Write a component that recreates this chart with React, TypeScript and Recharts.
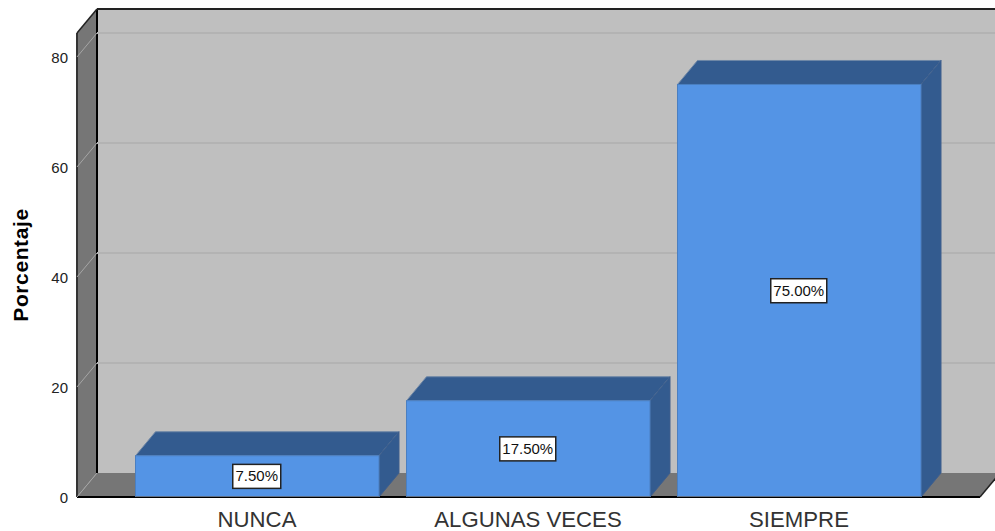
import { Bar, BarChart, CartesianGrid, LabelList, XAxis, YAxis } from 'recharts'

const categories = ['NUNCA', 'ALGUNAS VECES', 'SIEMPRE']
const percentages = [7.5, 17.5, 75]
const yTicks = [0, 20, 40, 60, 80]

const chartData = categories.map((name, i) => ({ name, value: percentages[i] }))

// depth of the fake 3D box
const DX = 20
const DY = 24

function poly(points: number[][]) {
  return points.map((p) => p.join(',')).join(' ')
}

// grid line on back wall plus the diagonal over the side wall; first line also draws the walls
function WallLine(props: any) {
  const { x1, x2, y1, index, x, y, width, height } = props
  const b = y + height
  const r = x + width
  const isTop = Math.abs(y1 - y) < 1
  const isBottom = Math.abs(y1 - b) < 1
  return (
    <g>
      {index === 0 && (
        <g>
          <rect x={x + DX} y={y - DY} width={width} height={height} fill="#bfbfbf" />
          <polygon points={poly([[x, b], [r, b], [r + DX, b - DY], [x + DX, b - DY]])} fill="#767676" />
          <polygon points={poly([[x, b], [x, y], [x + DX, y - DY], [x + DX, b - DY]])} fill="#767676" />
          <line x1={x + DX} x2={x + DX} y1={y - DY} y2={b - DY} stroke="#000" strokeWidth={2} />
          <line x1={x + DX} x2={r + DX} y1={y - DY} y2={y - DY} stroke="#222" strokeWidth={2} />
          <line x1={x} x2={x} y1={y} y2={b} stroke="#333" strokeWidth={2} />
          <line x1={x} x2={x + DX} y1={y} y2={y - DY} stroke="#222" strokeWidth={1.5} />
          <line x1={x} x2={r} y1={b} y2={b} stroke="#000" strokeWidth={2} />
          <line x1={r} x2={r + DX} y1={b} y2={b - DY} stroke="#222" strokeWidth={1.5} />
        </g>
      )}
      {!isTop && !isBottom && (
        <line x1={x1 + DX} x2={x2 + DX} y1={y1 - DY} y2={y1 - DY} stroke="#b3b3b3" strokeWidth={2} />
      )}
      {!isTop && <line x1={x1} x2={x1 + DX} y1={y1} y2={y1 - DY} stroke="#a6a6a6" strokeWidth={1} />}
    </g>
  )
}

function Box3D(props: any) {
  const { x, y, width, height } = props
  const r = x + width
  const b = y + height
  return (
    <g>
      <polygon points={poly([[x, y], [x + DX, y - DY], [r + DX, y - DY], [r, y]])} fill="#335b8f" stroke="#6f87a6" strokeWidth={1} />
      <polygon points={poly([[r, y], [r + DX, y - DY], [r + DX, b - DY], [r, b]])} fill="#335b8f" stroke="#3f5f8c" strokeWidth={1} />
      <rect x={x} y={y} width={width} height={height} fill="#5494e5" stroke="#4b7fc0" strokeWidth={1} />
      <line x1={x} x2={r} y1={b} y2={b} stroke="#5f6f85" strokeWidth={2} />
    </g>
  )
}

function ValueBox(props: any) {
  const { x, y, width, height, value } = props
  const text = `${value.toFixed(2)}%`
  const w = text.length === 5 ? 48 : 56
  const h = 24
  const cx = x + width / 2 - 0.5
  const cy = y + height / 2
  return (
    <g>
      <rect x={cx - w / 2} y={cy - h / 2} width={w} height={h} fill="#fff" stroke="#222" strokeWidth={1.5} />
      <text x={cx} y={cy + 5} textAnchor="middle" fontSize={15} fill="#111" fontFamily="Liberation Sans">
        {text}
      </text>
    </g>
  )
}

export default function App() {
  return (
    <div style={{ position: 'absolute', left: 0, top: 0, width: 995, height: 531, overflow: 'hidden', background: '#fff' }}>
      <BarChart
        width={995}
        height={531}
        data={chartData}
        margin={{ top: 33, right: 15, bottom: 0, left: 0 }}
        barSize={243.5}
      >
        <CartesianGrid vertical={false} horizontal={<WallLine />} />
        <XAxis
          dataKey="name"
          height={34}
          padding={{ left: 44.5, right: 45.5 }}
          axisLine={false}
          tickLine={false}
          interval={0}
          tick={{ fontSize: 22.2, fill: '#333', fontFamily: 'Liberation Sans' }}
          tickMargin={8}
        />
        <YAxis
          width={77}
          domain={[0, 84.36]}
          ticks={yTicks}
          allowDataOverflow
          axisLine={false}
          tickLine={false}
          tickSize={0}
          tickMargin={9}
          tick={{ fontSize: 15, fill: '#222', fontFamily: 'Liberation Sans', dy: 1 }}
          label={{
            value: 'Porcentaje',
            angle: -90,
            position: 'insideLeft',
            offset: 21,
            style: { fontSize: 21, letterSpacing: 0.6, fontWeight: 'bold', fill: '#000', fontFamily: 'Liberation Sans', textAnchor: 'middle' },
          }}
        />
        <Bar dataKey="value" shape={<Box3D />} isAnimationActive={false}>
          <LabelList dataKey="value" content={<ValueBox />} />
        </Bar>
      </BarChart>
    </div>
  )
}
